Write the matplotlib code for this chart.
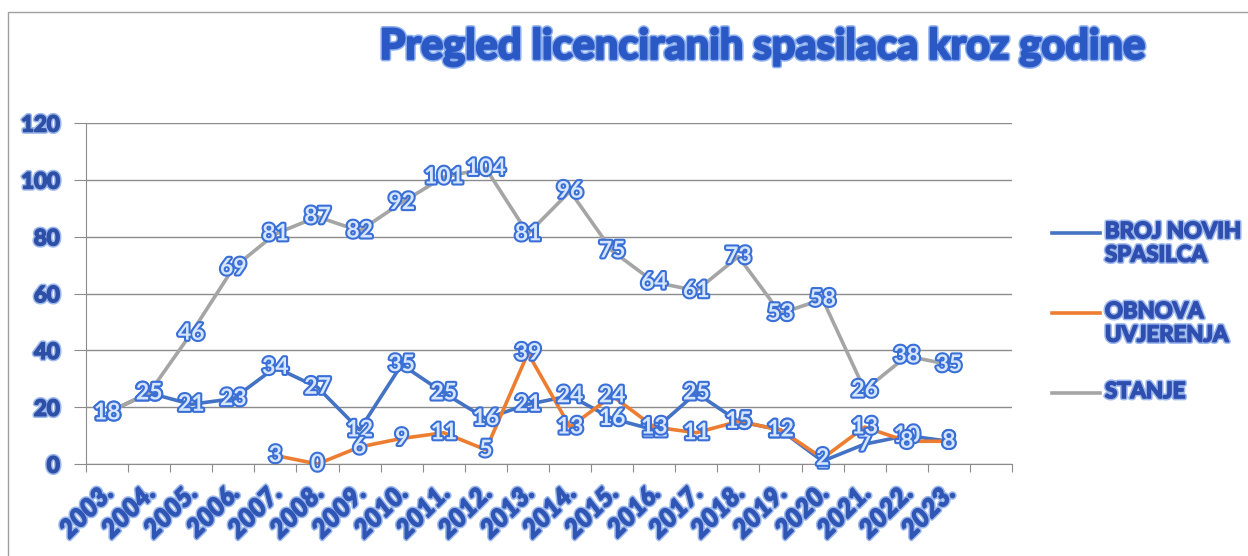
import matplotlib.pyplot as plt
import matplotlib.patheffects as pe
import matplotlib.transforms as mtransforms
from matplotlib.lines import Line2D
from matplotlib.patches import Rectangle
import numpy as np

# Podaci
godine = ['2003.', '2004.', '2005.', '2006.', '2007.', '2008.', '2009.', '2010.',
          '2011.', '2012.', '2013.', '2014.', '2015.', '2016.', '2017.', '2018.',
          '2019.', '2020.', '2021.', '2022.', '2023.']
novi = [18, 25, 21, 23, 34, 27, 12, 35, 25, 16, 21, 24, 16, 12, 25, 15, 12, 1, 7, 10, 8]
obnova = [np.nan, np.nan, np.nan, np.nan, 3, 0, 6, 9, 11, 5, 39, 13, 24, 13, 11, 15,
          12, 2, 13, 8, 8]
stanje = [18, 25, 46, 69, 81, 87, 82, 92, 101, 104, 81, 96, 75, 64, 61, 73, 53, 58,
          26, 38, 35]
nazivi = ['BROJ NOVIH\nSPASILCA', 'OBNOVA\nUVJERENJA', 'STANJE']
boje = ['#4472C4', '#ED7D31', '#A5A5A5']

plt.rcParams['font.family'] = ['Lato', 'DejaVu Sans']


def debeli(boja, sjaj='#9db8ec', w=1.2):
    # podebljani tekst sa svijetlim rubom
    return [pe.Stroke(linewidth=w + 2.2, foreground=sjaj),
            pe.Stroke(linewidth=w, foreground=boja), pe.Normal()]


fig = plt.figure(figsize=(12.48, 5.56), dpi=100)
ax = fig.add_axes([86 / 1248, 1 - 464 / 556, (1012 - 86) / 1248, (464 - 123) / 556])

x = np.arange(len(godine))
serije = [novi, obnova, stanje]
for vrijednosti, boja in zip(serije, boje):
    ax.plot(x, vrijednosti, color=boja, lw=2.6, solid_capstyle='round', zorder=3)

# Oznake podataka
efekt = [pe.withStroke(linewidth=3, foreground='#3a6fd8')]
for vrijednosti in serije:
    for xi, v in zip(x, vrijednosti):
        if np.isnan(v):
            continue
        ax.text(xi, v, f'{int(v)}', ha='center', va='center', fontsize=16.5,
                fontweight='bold', color='#d6e6fc', path_effects=efekt, zorder=5)

# Osi
ax.set_xlim(-0.5, len(godine) + 0.5)
ax.set_ylim(0, 120)
ax.set_yticks(np.arange(0, 121, 20))
ax.grid(axis='y', color='#8c8c8c', lw=1)
ax.set_axisbelow(True)
ax.set_xticks(np.arange(-0.5, len(godine) + 1, 1))
ax.set_xticklabels([])
ax.set_xticks(x, minor=True)
ax.set_xticklabels(godine, minor=True, rotation=45, ha='right', va='top',
                   rotation_mode='anchor', fontsize=18, fontweight='bold',
                   fontstyle='italic', color='#2f55b5')
ax.tick_params(axis='x', which='major', length=6, color='#8c8c8c', direction='out')
ax.tick_params(axis='x', which='minor', length=0, pad=12)
ax.tick_params(axis='y', length=9, color='#8c8c8c', pad=10)
for lbl in ax.get_yticklabels():
    lbl.set_fontsize(16)
    lbl.set_fontweight('bold')
    lbl.set_color('#2e4fa6')
    lbl.set_path_effects(debeli('#2e4fa6'))
pomak = mtransforms.ScaledTranslation(-6 / 100, 0, fig.dpi_scale_trans)
for lbl in ax.get_xticklabels(minor=True):
    lbl.set_path_effects(debeli('#2f55b5'))
    lbl.set_transform(lbl.get_transform() + pomak)
for s in ['top', 'right']:
    ax.spines[s].set_visible(False)
ax.spines['left'].set_color('#8c8c8c')
ax.spines['bottom'].set_color('#8c8c8c')

# Naslov
fig.text(762 / 1248, 1 - 47 / 556, 'Pregled licenciranih spasilaca kroz godine',
         ha='center', va='center', fontsize=30, fontweight='bold', color='#2a58c5',
         path_effects=debeli('#2a58c5', '#8fb0ee', 1.6))

# Legenda
leg_y = [233, 313, 393]
for naziv, boja, yy in zip(nazivi, boje, leg_y):
    fy = 1 - yy / 556
    fig.add_artist(Line2D([1052 / 1248, 1100 / 1248], [fy, fy], color=boja, lw=2.6,
                          transform=fig.transFigure))
    fig.text(1105 / 1248, fy + 12 / 556, naziv, ha='left', va='top', fontsize=16,
             fontweight='bold', color='#2f4fb0', linespacing=1.15,
             path_effects=debeli('#2f4fb0'))

# Okvir
fig.add_artist(Rectangle((8 / 1248, -0.05), 1.2, 1 - 12 / 556 + 0.05, fill=False,
                         edgecolor='#a0a0a0', lw=1, transform=fig.transFigure))

fig.savefig('out.png', dpi=100)
